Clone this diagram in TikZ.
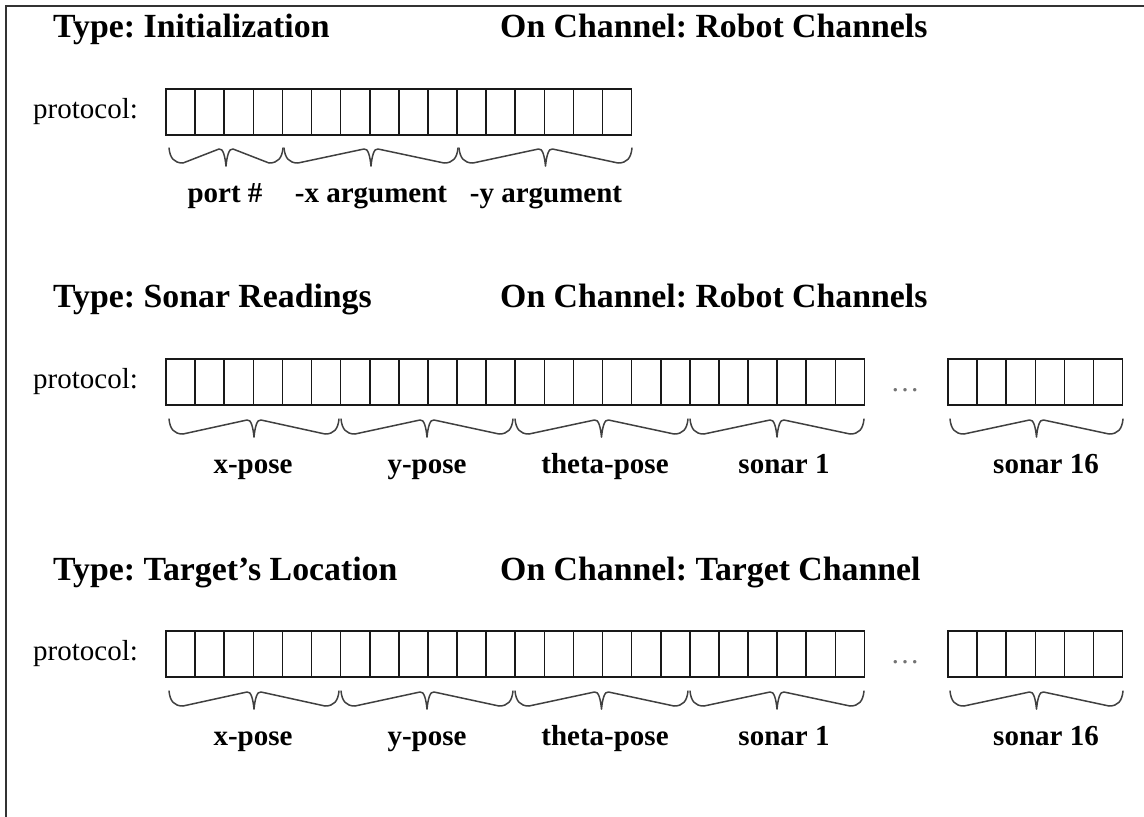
\documentclass[tikz,border=0pt]{standalone}
\usepackage{fontspec}
\setmainfont{Liberation Serif}
\frenchspacing

% A strip of #3 equal cells, left edge #1, top edge #2
\newcommand\cellstrip[3]{%
  \draw[cellline] (#1,#2) rectangle ++({#3*29.1},46);
  \foreach \k in {1,...,\numexpr#3-1\relax}
    \draw[cellline] ({#1+\k*29.1},#2) -- ++(0,46);
}

% A curly underbrace from x=#1 to x=#2, its upper ends at y=#3
\newcommand\fieldbrace[3]{%
  \pgfmathsetmacro\xm{(#1+#2)/2}%
  \draw[bracestroke]
    (#1,#3) .. controls ({#1+1},{#3+10}) and ({#1+5},{#3+15}) .. ({#1+14},{#3+15})
    -- ({\xm-7},{#3+1})
    .. controls ({\xm-3},{#3}) and ({\xm-1},{#3+8}) .. (\xm,{#3+18})
    .. controls ({\xm+1},{#3+8}) and ({\xm+3},{#3}) .. ({\xm+7},{#3+1})
    -- ({#2-14},{#3+15})
    .. controls ({#2-5},{#3+15}) and ({#2-1},{#3+10}) .. (#2,#3);
}

\begin{document}
\begin{tikzpicture}[x=1pt,y=-1pt,
  title/.style={font=\fontsize{33.8}{40}\selectfont\bfseries, anchor=base west, inner sep=0pt},
  protolabel/.style={font=\fontsize{29}{34}\selectfont, anchor=base west, inner sep=0pt},
  fieldname/.style={font=\fontsize{29}{34}\selectfont\bfseries, anchor=base, inner sep=0pt},
  ellipsis/.style={font=\fontsize{29}{34}\selectfont, text=black!55, anchor=base, inner sep=0pt},
  cellline/.style={line width=1.6pt, black!90},
  bracestroke/.style={line width=1.5pt, black!75, line join=round, line cap=round},
  frameline/.style={line width=2.4pt, black!80}]
\useasboundingbox (0,0) rectangle (1144,817);

% outer frame: top and left edges only
\coordinate (frameTR) at (1144,6);
\coordinate (frameTL) at (6,6);
\coordinate (frameBL) at (6,817);
\draw[frameline] (frameTR) -- (frameTL) -- (frameBL);

% ---------- Initialization ----------
\node[title] (type1) at (53,37) {Type: Initialization};
\node[title] (chan1) at (500,37) {On Channel: Robot Channels};
\node[protolabel] (proto1) at (33,118) {protocol:};
\cellstrip{166}{89}{16}
\fieldbrace{169}{283}{148}
\fieldbrace{284}{458}{148}
\fieldbrace{459}{632}{148}
\node[fieldname] (port) at (225,202) {port \#};
\node[fieldname] (xarg) at (371,202) {-x argument};
\node[fieldname] (yarg) at (546,202) {-y argument};

% ---------- Sonar Readings ----------
\node[title] (type2) at (53,307) {Type: Sonar Readings};
\node[title] (chan2) at (500,307) {On Channel: Robot Channels};
\node[protolabel] (proto2) at (33,388) {protocol:};
\cellstrip{166}{359}{24}
\cellstrip{948}{359}{6}
\node[ellipsis] (dots2) at (905,391) {\ldots};
\fieldbrace{169}{339}{419}
\fieldbrace{341}{513}{419}
\fieldbrace{515}{688}{419}
\fieldbrace{690}{864}{419}
\fieldbrace{950}{1123}{419}
\node[fieldname] (xpose2) at (253,473) {x-pose};
\node[fieldname] (ypose2) at (427,473) {y-pose};
\node[fieldname] (tpose2) at (605,473) {theta-pose};
\node[fieldname] (sonA2) at (784,473) {sonar 1};
\node[fieldname] (sonB2) at (1046,473) {sonar 16};

% ---------- Target's Location ----------
\node[title] (type3) at (53,580) {Type: Target’s Location};
\node[title] (chan3) at (500,580) {On Channel: Target Channel};
\node[protolabel] (proto3) at (33,660) {protocol:};
\cellstrip{166}{631}{24}
\cellstrip{948}{631}{6}
\node[ellipsis] (dots3) at (905,663) {\ldots};
\fieldbrace{169}{339}{691}
\fieldbrace{341}{513}{691}
\fieldbrace{515}{688}{691}
\fieldbrace{690}{864}{691}
\fieldbrace{950}{1123}{691}
\node[fieldname] (xpose3) at (253,745) {x-pose};
\node[fieldname] (ypose3) at (427,745) {y-pose};
\node[fieldname] (tpose3) at (605,745) {theta-pose};
\node[fieldname] (sonA3) at (784,745) {sonar 1};
\node[fieldname] (sonB3) at (1046,745) {sonar 16};
\end{tikzpicture}
\end{document}
